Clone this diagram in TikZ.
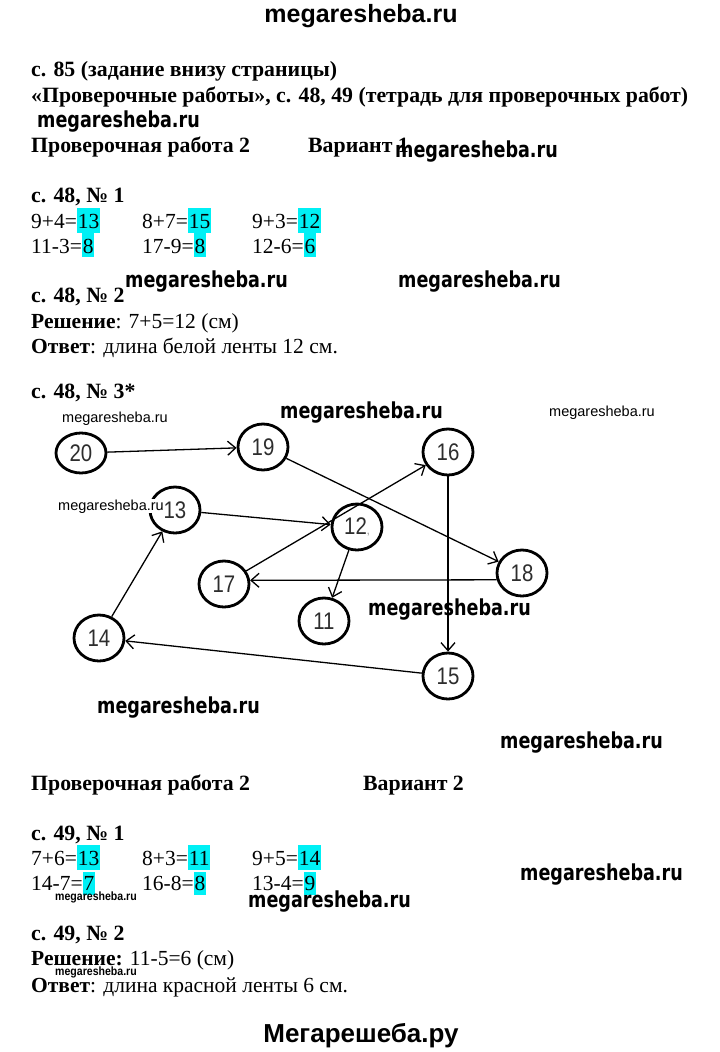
\documentclass[tikz,border=0pt]{standalone}
\usepackage{fontspec}
\setmainfont{Liberation Serif}
\newfontfamily\numfont[FakeStretch=0.85]{Liberation Sans}
\newfontfamily\sitefont{Liberation Sans}
\newfontfamily\markfont[FakeStretch=0.8]{DejaVu Sans}
\newfontfamily\narrowfont[FakeStretch=0.88]{Liberation Sans}
\usetikzlibrary{shapes,positioning,arrows.meta}
\definecolor{hlcyan}{RGB}{0,240,245}
\definecolor{numgray}{RGB}{45,45,45}

\begin{document}
\begin{tikzpicture}
[x=1pt, y=-1pt, every node/.style={inner sep=0},
 txt/.style={anchor=base west, font=\fontsize{21.5}{25}\selectfont},
 head/.style={anchor=base west, font=\fontsize{21.8}{25}\selectfont\bfseries},
 hl/.style={anchor=base west, fill=hlcyan, inner xsep=0.5pt, text height=20.5pt, text depth=4.5pt, font=\fontsize{21.5}{25}\selectfont},
 num/.style={ellipse, draw, line width=2.8pt, minimum width=50pt, minimum height=46pt, text=numgray, font=\numfont\fontsize{24}{26}\selectfont},
 link/.style={draw, line width=1.3pt, -{Straight Barb[length=8pt,width=14pt]}},
 wm/.style={anchor=base west, font=\markfont\bfseries\fontsize{22}{24}\selectfont},
 wmsmall/.style={anchor=base west, font=\sitefont\fontsize{14.5}{16}\selectfont},
 wmtiny/.style={anchor=base west, font=\narrowfont\bfseries\fontsize{12}{14}\selectfont}]
\fill[white] (0,0) rectangle (720,1052);
\useasboundingbox (0,0) rectangle (720,1052);

% site name
\node[anchor=base, font=\sitefont\bfseries\fontsize{25}{28}\selectfont] (top) at (361,22) {megaresheba.ru};

% variant 1
\node[head] (t1) at (31,76) {с. 85 (задание внизу страницы)};
\node[head] (t2) at (31,102) {«Проверочные работы», с. 48, 49 (тетрадь для проверочных работ)};
\node[head] (w1) at (31,152) {Проверочная работа 2};
\node[head] (v1) at (308,152) {Вариант 1};
\node[head] (p1) at (31,202) {с. 48, № 1};
\foreach \x/\eq/\res [count=\i] in {31/9+4=/13, 142/8+7=/15, 252/9+3=/12}{
  \node[txt] (qa\i) at (\x,228) {\eq};
  \node[hl] (ra\i) at (qa\i.base east) {\res};
}
\foreach \x/\eq/\res [count=\i] in {31/11-3=/8, 142/17-9=/8, 252/12-6=/6}{
  \node[txt] (qb\i) at (\x,253) {\eq};
  \node[hl, text height=20pt, text depth=4pt] (rb\i) at (qb\i.base east) {\res};
}
\node[head] (p2) at (31,302) {с. 48, № 2};
\node[txt] (s1) at (31,328) {\textbf{Решение}: 7+5=12 (см)};
\node[txt] (o1) at (31,353) {\textbf{Ответ}: длина белой ленты 12 см.};
\node[head] (p3) at (31,398) {с. 48, № 3*};

% graph
\node[num, minimum height=40pt] (n20) at (81,453) {20};
\node[num] (n19) at (263,447) {19};
\node[num] (n16) at (448,452) {16};
\node[num] (n13) at (175,510) {13};
\node[num] (n12) at (357,527) {12{\color{gray}\fontsize{12}{12}\selectfont,}};
\node[num] (n18) at (522,573) {18};
\node[num] (n17) at (224,584) {17};
\node[num] (n11) at (324,621) {11};
\node[num] (n14) at (99,638) {14};
\node[num] (n15) at (448,676) {15};
\draw[link] (n20) -- (n19);
\draw[link] (n19) -- (n18);
\draw[link] (n17) -- (n16);
\draw[link] (n16) -- (n15);
\draw[link] (n13) -- (n12);
\draw[link] (n12) -- (n11);
\draw[link] (n18.195) -- (n17.8);
\draw[link] (n15) -- (n14);
\draw[link] (n14) -- (n13);

% variant 2
\node[head] (w2) at (31,790) {Проверочная работа 2};
\node[head] (v2) at (363,790) {Вариант 2};
\node[head] (p4) at (31,840) {с. 49, № 1};
\foreach \x/\eq/\res [count=\i] in {31/7+6=/13, 142/8+3=/11, 252/9+5=/14}{
  \node[txt] (qc\i) at (\x,865) {\eq};
  \node[hl] (rc\i) at (qc\i.base east) {\res};
}
\foreach \x/\eq/\res [count=\i] in {31/14-7=/7, 142/16-8=/8, 252/13-4=/9}{
  \node[txt] (qd\i) at (\x,890) {\eq};
  \node[hl, text height=18pt, text depth=5pt] (rd\i) at (qd\i.base east) {\res};
}
\node[head] (p5) at (31,940) {с. 49, № 2};
\node[txt] (s2) at (31,965) {\textbf{Решение:} 11-5=6 (см)};
\node[txt] (o2) at (31,992) {\textbf{Ответ}: длина красной ленты 6 см.};

% watermarks
\node[wm] (m1) at (37,127) {megaresheba.ru};
\node[wm] (m2) at (395,157) {megaresheba.ru};
\node[wm] (m3) at (125,287) {megaresheba.ru};
\node[wm] (m4) at (398,287) {megaresheba.ru};
\node[wm] (m5) at (280,418) {megaresheba.ru};
\node[wm] (m6) at (368,615) {megaresheba.ru};
\node[wm] (m7) at (97,713) {megaresheba.ru};
\node[wm] (m8) at (500,748) {megaresheba.ru};
\node[wm] (m9) at (520,880) {megaresheba.ru};
\node[wm] (m10) at (248,907) {megaresheba.ru};
\node[wmsmall] (m11) at (62,422) {megaresheba.ru};
\node[wmsmall] (m12) at (549,416) {megaresheba.ru};
\node[wmsmall, fill=white] (m13) at (58,510) {megaresheba.ru};
\node[wmtiny] (m14) at (55,900) {megaresheba.ru};
\node[wmtiny] (m15) at (55,975) {megaresheba.ru};
\node[anchor=base, font=\sitefont\bfseries\fontsize{26}{28}\selectfont] (bottom) at (361,1042) {Мегарешеба.ру};
\end{tikzpicture}
\end{document}
